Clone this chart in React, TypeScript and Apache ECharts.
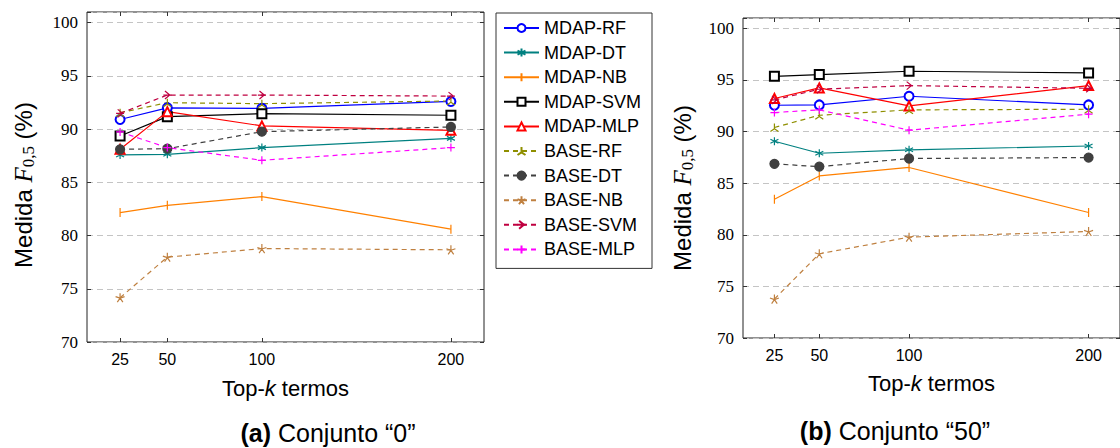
import React, { useEffect, useRef } from "react";
import * as echarts from "echarts";

// ---------- DATA ----------
const topK = [25, 50, 100, 200];
const yTicks = [70, 75, 80, 85, 90, 95, 100];
const seriesNames = [
  "MDAP-RF", "MDAP-DT", "MDAP-NB", "MDAP-SVM", "MDAP-MLP",
  "BASE-RF", "BASE-DT", "BASE-NB", "BASE-SVM", "BASE-MLP",
];

// Conjunto "0"
const mdapRF0 = [90.9, 92.0, 91.95, 92.6];
const mdapDT0 = [87.57, 87.63, 88.26, 89.13];
const mdapNB0 = [82.16, 82.84, 83.66, 80.6];
const mdapSVM0 = [89.35, 91.17, 91.45, 91.3];
const mdapMLP0 = [88.1, 91.64, 90.3, 89.88];
const baseRF0 = [91.54, 92.48, 92.39, 92.64];
const baseDT0 = [88.1, 88.16, 89.76, 90.2];
const baseNB0 = [74.16, 77.97, 78.78, 78.66];
const baseSVM0 = [91.48, 93.2, 93.2, 93.1];
const baseMLP0 = [89.73, 88.26, 87.07, 88.26];

// Conjunto "50"
const mdapRF50 = [92.55, 92.58, 93.42, 92.58];
const mdapDT50 = [89.06, 87.9, 88.23, 88.6];
const mdapNB50 = [83.45, 85.7, 86.52, 82.16];
const mdapSVM50 = [95.35, 95.52, 95.84, 95.68];
const mdapMLP50 = [93.2, 94.23, 92.48, 94.45];
const baseRF50 = [90.39, 91.58, 92.1, 92.16];
const baseDT50 = [86.87, 86.6, 87.39, 87.48];
const baseNB50 = [73.77, 78.16, 79.77, 80.32];
const baseSVM50 = [93.06, 94.1, 94.45, 94.19];
const baseMLP50 = [91.84, 92.1, 90.13, 91.68];

const set0 = [mdapRF0, mdapDT0, mdapNB0, mdapSVM0, mdapMLP0, baseRF0, baseDT0, baseNB0, baseSVM0, baseMLP0];
const set50 = [mdapRF50, mdapDT50, mdapNB50, mdapSVM50, mdapMLP50, baseRF50, baseDT50, baseNB50, baseSVM50, baseMLP50];

// ---------- STYLES ----------
const SANS = "'Liberation Sans', Arial, Helvetica, sans-serif";
const SERIF = "'Liberation Serif', 'Times New Roman', serif";

const colors = [
  "#0000ff", "#008080", "#ff8000", "#000000", "#ff0000",
  "#8f8f00", "#404040", "#bf8040", "#bf0040", "#ff00ff",
];
const dashed = [false, false, false, false, false, true, true, true, true, true];
const P_AST = "path://M5,0L5,10M0.67,2.5L9.33,7.5M0.67,7.5L9.33,2.5";
const P_BAR = "path://M5,0L5,10M0,5L0.01,5M10,5L9.99,5";
const P_TRI3 = "path://M5,5L5,0M5,5L0.67,7.5M5,5L9.33,7.5";
const P_STAR = "path://M5,5L5,0M5,5L9.755,3.455M5,5L7.939,9.045M5,5L2.061,9.045M5,5L0.245,3.455";
const P_ARROW = "path://M2,1L8,5L2,9M0,5L10,5";
const P_PLUS = "path://M5,0L5,10M0,5L10,5";
const symbols = [
  "emptyCircle", P_AST, P_BAR, "emptyRect", "emptyTriangle",
  P_TRI3, "circle", P_STAR, P_ARROW, P_PLUS,
];
const symbolSizes = [9, 8, 9, 9, 9, 8, 9, 9, 8, 8];

export default function App() {
  const ref = useRef<HTMLDivElement>(null);

  useEffect(() => {
    if (!ref.current) return;
    const chart = echarts.init(ref.current, undefined, { renderer: "svg" });

    const grids = [
      { left: 87, top: 12, width: 397, height: 330 },
      { left: 743, top: 18, width: 385, height: 320 },
    ];

    const xName = "{a|Top-}{k|k}{a| termos}";
    const xNameRich = {
      a: { fontFamily: SANS, fontSize: 22, color: "#000" },
      k: { fontFamily: SANS, fontSize: 22, fontStyle: "italic", color: "#000" },
    };
    const yName = "{a|Medida }{f|F}{s|0,5}{a| (%)}";
    const yNameRich = {
      a: { fontFamily: SANS, fontSize: 24, fill: "#000", lineHeight: 28 },
      f: { fontFamily: SERIF, fontSize: 25, fontStyle: "italic", fill: "#000", lineHeight: 28 },
      s: { fontFamily: SERIF, fontSize: 17, fill: "#000", lineHeight: 15, verticalAlign: "bottom" },
    };

    const xAxes: any[] = [];
    const yAxes: any[] = [];
    [0, 1].forEach((g) => {
      const tickStyle = { show: true, inside: true, length: 4, customValues: topK, lineStyle: { color: "#333", width: 1 } };
      xAxes.push({
        type: "value", gridIndex: g, position: "bottom", min: 7.5, max: 217.5,
        axisLine: { show: false }, splitLine: { show: false },
        axisTick: tickStyle,
        axisLabel: { show: true, customValues: topK, margin: 9, fontFamily: SANS, fontSize: 16, color: "#000" },
        name: xName, nameLocation: "middle", nameGap: g === 0 ? 35 : 34,
        nameTextStyle: { rich: xNameRich },
      });
      xAxes.push({
        type: "value", gridIndex: g, position: "top", min: 7.5, max: 217.5,
        axisLine: { show: false }, splitLine: { show: false },
        axisTick: tickStyle, axisLabel: { show: false },
      });
      const yTick = { show: true, inside: true, length: 4, lineStyle: { color: "#333", width: 1 } };
      yAxes.push({
        type: "value", gridIndex: g, position: "left", min: 70, max: 101, interval: 5,
        axisLine: { show: false },
        axisTick: yTick,
        splitLine: { show: true, lineStyle: { color: "#c4c4c4", width: 1, type: [6, 4] } },
        axisLabel: {
          margin: 9, fontFamily: SERIF, fontSize: 17, color: "#000",
          formatter: (v: number) => (yTicks.indexOf(v) >= 0 ? String(v) : ""),
        },
      });
      yAxes.push({
        type: "value", gridIndex: g, position: "right", min: 70, max: 101, interval: 5,
        axisLine: { show: false }, splitLine: { show: false },
        axisTick: yTick, axisLabel: { show: false },
      });
    });

    const series: any[] = [];
    [set0, set50].forEach((set, g) => {
      set.forEach((vals, i) => {
        const c = colors[i];
        const sym = symbols[i];
        const isPath = sym.indexOf("path://") === 0;
        series.push({
          type: "line",
          name: seriesNames[i],
          xAxisIndex: g * 2,
          yAxisIndex: g * 2,
          data: topK.map((k, j) => [k, vals[j]]),
          symbol: sym,
          symbolSize: symbolSizes[i],
          showAllSymbol: true,
          lineStyle: { color: c, width: 1.2, type: dashed[i] ? [5, 4] : "solid" },
          itemStyle: isPath
            ? { color: "rgba(0,0,0,0)", borderColor: c, borderWidth: 1.2 }
            : { color: c, borderColor: c, borderWidth: 1.2 },
          emphasis: { disabled: true },
          z: 3,
        });
      });
    });

    const yTitle = (x: number, y: number) => ({
      type: "text", x, y, rotation: Math.PI / 2,
      style: {
        text: yName, align: "center", verticalAlign: "middle",
        fontFamily: SANS, fontSize: 24, fill: "#000", rich: yNameRich,
      },
    });
    const caption = (x: number, y: number, tag: string, label: string) => ({
      type: "text", x, y,
      style: {
        text: "{b|" + tag + "}{r| " + label + "}", align: "center", verticalAlign: "middle",
        fontFamily: SANS, fontSize: 25, fill: "#000", lineHeight: 22,
        rich: {
          b: { fontFamily: SANS, fontSize: 25, fontWeight: "bold", fill: "#000", lineHeight: 22 },
          r: { fontFamily: SANS, fontSize: 25, fill: "#000", lineHeight: 22 },
        },
      },
    });

    chart.setOption({
      animation: false,
      backgroundColor: "#fff",
      grid: grids.map((g) => ({ ...g, show: true, borderColor: "#222", borderWidth: 1, backgroundColor: "transparent" })),
      xAxis: xAxes,
      yAxis: yAxes,
      legend: {
        data: seriesNames,
        orient: "vertical",
        left: 496,
        top: 13,
        padding: [5, 11, 9, 7],
        itemGap: 4.6,
        itemWidth: 35,
        itemHeight: 10,
        borderColor: "#333",
        borderWidth: 1,
        backgroundColor: "#fff",
        selectedMode: false,
        textStyle: { fontFamily: SANS, fontSize: 18, color: "#000", lineHeight: 20 },
      },
      graphic: [
        yTitle(23, 185),
        yTitle(682, 188),
        caption(328, 433, "(a)", "Conjunto “0”"),
        caption(895, 431, "(b)", "Conjunto “50”"),
      ],
      series,
    });

    return () => chart.dispose();
  }, []);

  return (
    <div
      ref={ref}
      style={{ position: "fixed", left: 0, top: 0, width: 1120, height: 448, background: "#fff" }}
    />
  );
}
